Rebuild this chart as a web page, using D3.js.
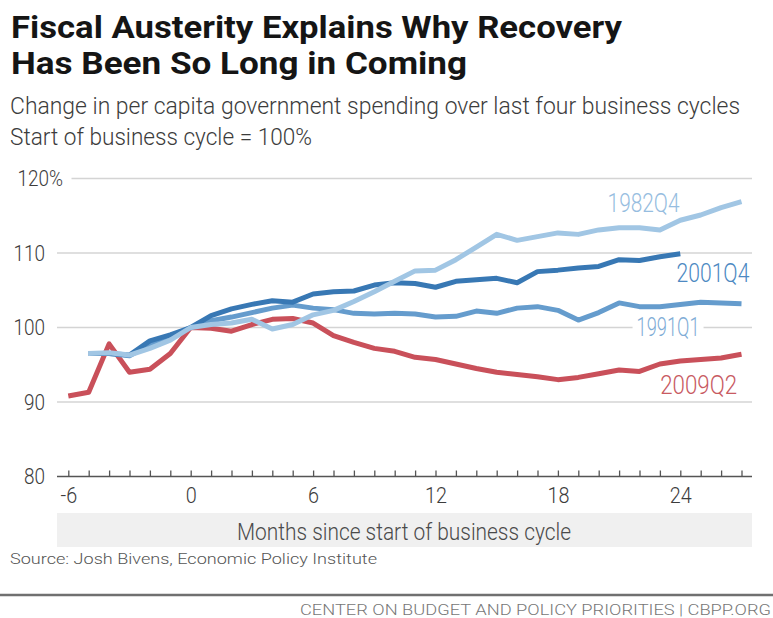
<!DOCTYPE html>
<html>
<head>
<meta charset="utf-8">
<script src="https://cdn.jsdelivr.net/npm/d3@7"></script>
<style>
  body { margin: 0; background: #fff; }
  svg { display: block; }
  text { font-family: Roboto, "Open Sans", "DejaVu Sans", sans-serif; }
</style>
</head>
<body>
<svg id="chart" width="773" height="618"></svg>
<script>
// Months relative to the start of each business cycle
const months = [-6, -5, -4, -3, -2, -1, 0, 1, 2, 3, 4, 5, 6, 7, 8, 9, 10, 11,
                12, 13, 14, 15, 16, 17, 18, 19, 20, 21, 22, 23, 24, 25, 26, 27];

// Per capita government spending, start of cycle = 100
const cycle2009Q2 = [90.8, 91.3, 97.8, 94.0, 94.4, 96.5, 100.0, 99.9, 99.5, 100.4, 101.1, 101.2,
                     100.6, 98.9, 98.0, 97.2, 96.8, 96.0, 95.7, 95.1, 94.5, 94.0, 93.7, 93.4,
                     93.0, 93.3, 93.8, 94.3, 94.1, 95.1, 95.5, 95.7, 95.9, 96.4];
const cycle1991Q1 = [null, 96.5, 96.5, 96.2, 97.7, 98.7, 100.0, 100.9, 101.4, 102.0, 102.6, 103.0,
                     102.6, 102.4, 101.9, 101.8, 101.9, 101.8, 101.4, 101.5, 102.2, 101.9, 102.6, 102.8,
                     102.3, 101.0, 102.0, 103.3, 102.8, 102.8, 103.1, 103.4, 103.3, 103.2];
const cycle2001Q4 = [null, 96.5, 96.5, 96.3, 98.2, 99.0, 100.0, 101.6, 102.5, 103.1, 103.6, 103.4,
                     104.5, 104.8, 104.9, 105.7, 106.0, 105.9, 105.4, 106.2, 106.4, 106.6, 106.0, 107.5,
                     107.7, 108.0, 108.2, 109.1, 109.0, 109.5, 109.9, null, null, null];
const cycle1982Q4 = [null, 96.5, 96.6, 96.3, 97.2, 98.3, 100.0, 100.4, 100.6, 101.1, 99.8, 100.4,
                     101.7, 102.3, 103.5, 104.8, 106.2, 107.6, 107.7, 109.1, 110.8, 112.5, 111.7, 112.2,
                     112.7, 112.5, 113.1, 113.4, 113.4, 113.1, 114.4, 115.1, 116.1, 116.9];

const yTicks = [80, 90, 100, 110, 120];
const xTickLabels = [-6, 0, 6, 12, 18, 24];

// Drawing order: bottom to top
const series = [
  { name: "2009Q2", values: cycle2009Q2 },
  { name: "1991Q1", values: cycle1991Q1 },
  { name: "2001Q4", values: cycle2001Q4 },
  { name: "1982Q4", values: cycle1982Q4 }
];

const lineColor = { "2009Q2": "#c9505a", "1991Q1": "#659ccd", "2001Q4": "#3878b4", "1982Q4": "#a1c6e4" };
const labelColor = { "2009Q2": "#c85a62", "1991Q1": "#80acd6", "2001Q4": "#4d89c2", "1982Q4": "#96bde0" };
// Label anchors in data units (month, value at baseline)
const labelAt = {
  "1982Q4": [22.2, 115.5],
  "2001Q4": [25.6, 106.1],
  "1991Q1": [23.4, 98.9],
  "2009Q2": [24.9, 91.1]
};

const svg = d3.select("#chart");
const plotLeft = 57, plotRight = 752;

const x = d3.scaleLinear().domain([-6, 27]).range([68.3, 741.5]);
const y = d3.scaleLinear().domain([80, 120]).range([476.5, 178.5]);

function fit(t, w) {
  t.attr("textLength", w).attr("lengthAdjust", "spacingAndGlyphs");
  return t;
}
function condense(sel, k) {
  sel.each(function () {
    const len = this.getComputedTextLength();
    if (len > 0) d3.select(this).attr("textLength", len * k).attr("lengthAdjust", "spacingAndGlyphs");
  });
}

// Title and subtitle
fit(svg.append("text").attr("x", 11).attr("y", 38).attr("font-size", 31).attr("font-weight", 700)
  .attr("fill", "#151515").text("Fiscal Austerity Explains Why Recovery"), 611);
fit(svg.append("text").attr("x", 11).attr("y", 74).attr("font-size", 31).attr("font-weight", 700)
  .attr("fill", "#151515").text("Has Been So Long in Coming"), 456);
fit(svg.append("text").attr("x", 10).attr("y", 114).attr("font-size", 23).attr("font-weight", 300)
  .attr("fill", "#3c3c3c").text("Change in per capita government spending over last four business cycles"), 730);
fit(svg.append("text").attr("x", 10).attr("y", 145).attr("font-size", 23).attr("font-weight", 300)
  .attr("fill", "#3c3c3c").text("Start of business cycle = 100%"), 302);

// Gridlines
svg.append("g").selectAll("line")
  .data(yTicks.filter(d => d !== 80))
  .join("line")
  .attr("x1", d => d === 120 ? 71.5 : plotLeft)
  .attr("x2", plotRight)
  .attr("y1", d => y(d)).attr("y2", d => y(d))
  .attr("stroke", "#d4d4d4").attr("stroke-width", 1.5);

// Y axis labels; the top label carries the unit, which hangs past the number column
const yAxis = svg.append("g").attr("transform", "translate(45,0)")
  .call(d3.axisLeft(y).tickValues(yTicks).tickSize(0).tickPadding(0)
    .tickFormat(d => d === 120 ? d + "%" : d));
yAxis.select(".domain").remove();
yAxis.selectAll("text").attr("font-size", 22).attr("font-weight", 300)
  .attr("fill", "#3c3c3c").attr("font-family", null);
condense(yAxis.selectAll("text"), 0.86);
yAxis.selectAll(".tick text").filter(d => d === 120).attr("x", 18);

// X axis
const xAxis = svg.append("g").attr("transform", `translate(0,${y(80)})`)
  .call(d3.axisBottom(x).tickValues(months).tickSize(-6).tickPadding(11)
    .tickFormat(d => xTickLabels.includes(d) ? d : ""));
xAxis.select(".domain").remove();
xAxis.selectAll(".tick line").attr("stroke", "#555").attr("stroke-width", 1.3);
xAxis.selectAll("text").attr("font-size", 22).attr("font-weight", 300)
  .attr("fill", "#3c3c3c").attr("font-family", null);
condense(xAxis.selectAll("text"), 0.9);
svg.append("line").attr("x1", plotLeft).attr("x2", plotRight)
  .attr("y1", y(80)).attr("y2", y(80)).attr("stroke", "#555").attr("stroke-width", 1.6);

// Axis title band
svg.append("rect").attr("x", plotLeft).attr("y", 513).attr("width", plotRight - plotLeft).attr("height", 34)
  .attr("fill", "#f0f0f0");
fit(svg.append("text").attr("x", 404).attr("y", 540).attr("text-anchor", "middle")
  .attr("font-size", 23).attr("font-weight", 300).attr("fill", "#4a4a4a")
  .text("Months since start of business cycle"), 334);

// Series lines
const line = d3.line()
  .defined(d => d.v != null)
  .x(d => x(d.m))
  .y(d => y(d.v));

svg.append("g").selectAll("path")
  .data(series)
  .join("path")
  .attr("d", s => line(months.map((m, i) => ({ m, v: s.values[i] }))))
  .attr("fill", "none")
  .attr("stroke", s => lineColor[s.name])
  .attr("stroke-width", 5)
  .attr("stroke-linejoin", "round");

// Series labels
const labelWidth = { "1982Q4": 72, "2001Q4": 73, "1991Q1": 63, "2009Q2": 77 };
const labels = svg.append("g");
series.forEach(s => {
  const [lm, lv] = labelAt[s.name];
  const cx = x(lm), by = y(lv);
  const w = labelWidth[s.name];
  labels.append("rect").attr("x", cx - w / 2 - 4).attr("y", by - 19).attr("width", w + 8).attr("height", 22)
    .attr("fill", "#fff");
  fit(labels.append("text").attr("x", cx).attr("y", by).attr("text-anchor", "middle")
    .attr("font-size", 25).attr("font-weight", 300).attr("fill", labelColor[s.name]).text(s.name), w);
});

// Source and footer
fit(svg.append("text").attr("x", 10).attr("y", 564).attr("font-size", 15.5).attr("font-weight", 300)
  .attr("fill", "#555").text("Source: Josh Bivens, Economic Policy Institute"), 367);
svg.append("line").attr("x1", 0).attr("x2", 773).attr("y1", 595).attr("y2", 595)
  .attr("stroke", "#707070").attr("stroke-width", 2.5);
fit(svg.append("text").attr("x", 771).attr("y", 615).attr("text-anchor", "end").attr("font-size", 14)
  .attr("font-weight", 300).attr("fill", "#777").text("CENTER ON BUDGET AND POLICY PRIORITIES | CBPP.ORG"), 471);
</script>
</body>
</html>
